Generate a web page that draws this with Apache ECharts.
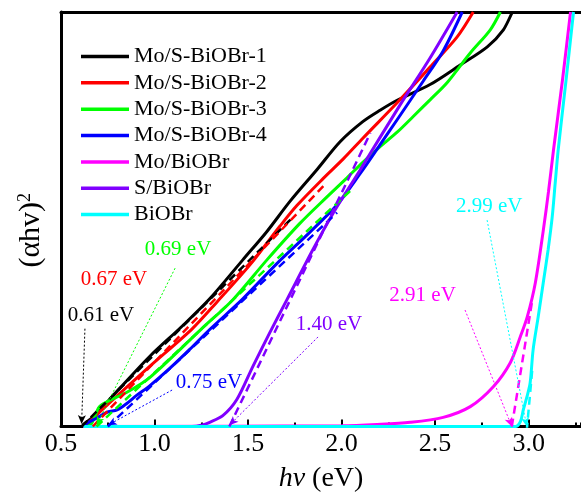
<!DOCTYPE html>
<html><head><meta charset="utf-8">
<script src="https://cdn.jsdelivr.net/npm/echarts@6/dist/echarts.min.js"></script>
<style>html,body{margin:0;padding:0;background:#fff}#c{width:581px;height:495px}</style>
</head><body><div id="c"></div><script>
// ---- data ----
const names = ['Mo/S-BiOBr-1','Mo/S-BiOBr-2','Mo/S-BiOBr-3','Mo/S-BiOBr-4','Mo/BiOBr','S/BiOBr','BiOBr'];
const colors = ['#000000','#ff0000','#00ff00','#0000ff','#ff00ff','#8000ff','#00ffff'];
const xTicks = [0.5,1.0,1.5,2.0,2.5,3.0];

const moS1 = [[0.50,0],[0.615,0],[0.62,0.5],[0.669,2.2],[0.82,9.5],[0.974,16.9],[1.15,24.3],[1.295,30.8],[1.472,40.2],[1.60,47.0],[1.724,54.3],[1.869,62.0],[1.992,68.7],[2.115,73.6],[2.206,76.3],[2.297,78.7],[2.473,82.5],[2.634,87.2],[2.779,91.6],[2.865,95.7],[2.913,100]];
const moS2 = [[0.63,0],[0.642,0.5],[0.66,1.5],[0.80,7.4],[0.974,14.5],[1.20,23.5],[1.333,30.0],[1.510,39.0],[1.670,48.3],[1.761,53.3],[1.901,59.8],[2.008,64.5],[2.115,69.6],[2.297,78.1],[2.473,86.7],[2.618,94.0],[2.704,100]];
const moS3 = [[0.64,0],[0.663,0.7],[0.69,3.5],[0.706,4.8],[0.76,6.3],[0.85,8.2],[0.974,11.8],[1.25,23.5],[1.419,30.6],[1.601,40.2],[1.777,49.0],[1.922,55.4],[2.029,60.0],[2.115,63.8],[2.20,67.3],[2.297,71.0],[2.383,74.8],[2.473,78.8],[2.565,83.0],[2.688,90.1],[2.795,95.7],[2.849,100]];
const moS4 = [[0.63,0],[0.637,0.7],[0.69,2.0],[0.75,3.5],[0.80,4.0],[0.85,5.5],[0.904,7.5],[0.974,9.8],[1.081,14.0],[1.188,18.6],[1.295,23.4],[1.472,30.8],[1.654,39.3],[1.831,46.9],[1.976,53.5],[2.099,61.0],[2.206,68.0],[2.297,74.0],[2.436,83.3],[2.543,90.6],[2.645,100]];
const moB = [[0.62,0],[2.0,0.2],[2.19,0.5],[2.367,1.0],[2.543,2.2],[2.688,4.8],[2.811,9.6],[2.902,15.4],[2.956,21.7],[2.993,26.5],[3.036,34.7],[3.079,47.5],[3.106,56.6],[3.133,66.7],[3.181,83.6],[3.224,100]];
const sB = [[0.62,0],[1.20,0],[1.25,0.3],[1.295,1.0],[1.365,2.6],[1.44,6.5],[1.526,14.5],[1.617,22.7],[1.708,30.6],[1.847,42.7],[1.954,51.4],[2.099,61.9],[2.313,77.6],[2.473,88.9],[2.618,100]];
const bB = [[0.62,0],[2.929,0],[2.956,1.2],[2.972,4.1],[2.990,7.0],[3.008,10.5],[3.024,18.5],[3.051,26.4],[3.078,34.6],[3.104,42.6],[3.126,50.5],[3.142,58.7],[3.158,66.7],[3.20,83.5],[3.240,100]];
const curves = [moS1, moS2, moS3, moS4, moB, sB, bB];

// tangent (extrapolation) lines: [gap, 0] -> end point
const fits = [
  [[0.61,0],[1.74,50.5]],
  [[0.67,0],[1.92,58.8]],
  [[0.69,0],[2.05,57.0]],
  [[0.75,0],[1.976,51.6]],
  [[2.91,0],[3.02,30.6]],
  [[1.40,0],[2.154,70.8]],
  [[2.99,-1],[3.02,14.0]]
];
// band-gap labels
const gapTexts = ['0.61 eV','0.67 eV','0.69 eV','0.75 eV','2.91 eV','1.40 eV','2.99 eV'];
const gapLabelAt = [[0.714,26.7],[0.783,35.4],[1.126,42.7],[1.291,10.5],[2.433,31.6],[1.933,24.6],[2.789,53.1]];
const gapArrowFrom = [[0.628,23.6],[0.778,32.9],[1.110,38.2],[1.094,8.8],[2.660,28.1],[1.874,21.6],[2.778,49.8]];
const gapArrowTo = [[0.61,0.6],[0.67,-0.8],[0.69,0.3],[0.75,0.3],[2.91,0],[1.40,0.3],[2.99,0]];

// ---- chart ----
const FONT = 'Liberation Serif';
const chart = echarts.init(document.getElementById('c'));
const series = [];
names.forEach((n, i) => {
  series.push({
    type: 'line', name: n, data: curves[i], symbol: 'none', showSymbol: false,
    smooth: 0.3, lineStyle: { color: colors[i], width: 3 }, itemStyle: { color: colors[i] },
    z: 3,
    markLine: {
      silent: true, symbol: ['none', 'arrow'], symbolSize: [6, 9],
      lineStyle: { color: colors[i], width: 1, type: [2, 2] },
      label: { show: false },
      data: [[{ coord: gapArrowFrom[i] }, { coord: gapArrowTo[i] }]]
    },
    markPoint: {
      silent: true, symbol: 'circle', symbolSize: 0,
      label: { show: true, position: 'inside', formatter: '{b}', fontSize: 21, fontFamily: FONT, color: colors[i] },
      data: [{ name: gapTexts[i], coord: gapLabelAt[i] }]
    }
  });
});
names.forEach((n, i) => {
  series.push({
    type: 'line', name: n + ' fit', data: fits[i], symbol: 'none', showSymbol: false,
    lineStyle: { color: colors[i], width: 2.5, type: [8, 5] }, z: 4
  });
});

const legendText = { fontSize: 22, fontFamily: FONT, fontStyle: 'normal', fontWeight: 'normal', color: '#000', lineHeight: 21 };

chart.setOption({
  animation: false,
  backgroundColor: '#fff',
  textStyle: { fontFamily: FONT },
  grid: { left: 61, right: 0, top: 12, bottom: 68.5, containLabel: false, outerBoundsMode: 'none' },
  legend: {
    data: names.map(n => ({ name: n, textStyle: legendText })),
    orient: 'vertical', left: 76, top: 40.5,
    icon: 'rect', itemWidth: 48, itemHeight: 3.5, itemGap: 4.35,
    textStyle: legendText
  },
  xAxis: [
    {
      type: 'value', min: 0.5, max: 3.28, interval: 0.5, position: 'bottom',
      axisLine: { lineStyle: { color: '#000', width: 3 } },
      axisTick: { inside: true, length: 7, lineStyle: { color: '#000', width: 2 } },
      axisLabel: { fontSize: 26, fontFamily: FONT, color: '#000', margin: 5, showMaxLabel: false,
        formatter: v => (xTicks.indexOf(Math.round(v * 100) / 100) >= 0 ? v.toFixed(1) : '') },
      splitLine: { show: false },
      name: '{i|hv} (eV)', nameLocation: 'middle', nameGap: 38,
      nameTextStyle: { fontSize: 28, fontFamily: FONT, color: '#000',
        rich: { i: { fontStyle: 'italic', fontSize: 28, fontFamily: FONT, color: '#000' } } }
    },
    {
      type: 'value', min: 0.5, max: 3.28, interval: 0.25, position: 'bottom',
      axisLine: { show: false },
      axisTick: { inside: true, length: 4, lineStyle: { color: '#000', width: 2 } },
      axisLabel: { show: false }, splitLine: { show: false }
    },
    {
      type: 'value', min: 0.5, max: 3.28, position: 'top',
      axisLine: { lineStyle: { color: '#000', width: 3 } },
      axisTick: { show: false }, axisLabel: { show: false }, splitLine: { show: false }
    }
  ],
  yAxis: {
    type: 'value', min: 0, max: 100, position: 'left',
    axisLine: { show: true, lineStyle: { color: '#000', width: 3 } },
    axisTick: { show: false }, axisLabel: { show: false }, splitLine: { show: false },
    name: '{a|(αhv)}{s|2}', nameLocation: 'middle', nameRotate: 90, nameGap: 15,
    nameTextStyle: { fontSize: 30, fontFamily: FONT, color: '#000', padding: [0, 22, 0, 0],
      rich: { a: { fontSize: 30, fontFamily: FONT, color: '#000' },
              s: { fontSize: 18, fontFamily: FONT, color: '#000', verticalAlign: 'top' } } }
  },
  series: series
});
</script></body></html>
